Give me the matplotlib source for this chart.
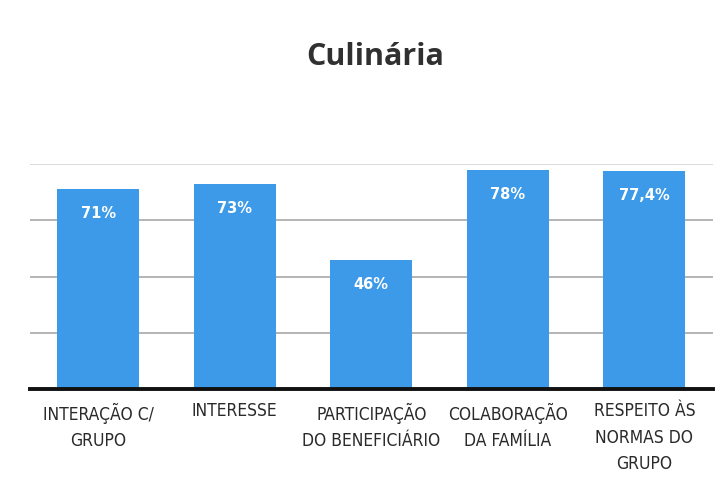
import matplotlib
matplotlib.use("Agg")
import matplotlib.pyplot as plt

categories = ["INTERAÇÃO C/\nGRUPO", "INTERESSE", "PARTICIPAÇÃO\nDO BENEFICIÁRIO",
              "COLABORAÇÃO\nDA FAMÍLIA", "RESPEITO ÀS\nNORMAS DO\nGRUPO"]
values = [71, 73, 46, 78, 77.4]
value_labels = ["71%", "73%", "46%", "78%", "77,4%"]
title = "Culinária"

fig = plt.figure(figsize=(7.28, 4.89), dpi=100)
fig.patch.set_facecolor("white")
ax = fig.add_axes([0.041, 0.2025, 0.938, 0.46])

x = list(range(len(categories)))
bars = ax.bar(x, values, width=0.6, color="#3d9ae8", zorder=2)
ax.set_xlim(-0.5, len(categories) - 0.5)
ax.set_ylim(0, 80)
ax.set_yticks([0, 20, 40, 60, 80])
ax.yaxis.grid(True, color="#a8a8a8", linewidth=1.2, zorder=0)
gl = ax.get_ygridlines()
gl[-1].set_color("#d4d4d4")
ax.tick_params(axis="y", length=0, labelleft=False)
ax.tick_params(axis="x", length=0, pad=9)
for s in ["top", "right", "left"]:
    ax.spines[s].set_visible(False)
ax.spines["bottom"].set_color("#111111")
ax.spines["bottom"].set_linewidth(2.8)
ax.spines["bottom"].set_zorder(3)

ax.set_xticks(x)
ax.set_xticklabels(categories, fontsize=12.5, color="#2a2a2a",
                   fontfamily="DejaVu Sans", fontstretch="condensed", linespacing=1.6)

for xi, v, lab in zip(x, values, value_labels):
    ax.annotate(lab, (xi, v), xytext=(0, -17), textcoords="offset points",
                ha="center", va="center", color="white", fontsize=10.5,
                fontweight="bold", zorder=4)

fig.text(0.515, 0.883, title, ha="center", va="center", fontsize=22,
         color="#303030", fontfamily="Open Sans", fontweight="bold")

fig.savefig("out.png", dpi=100, facecolor="white")
